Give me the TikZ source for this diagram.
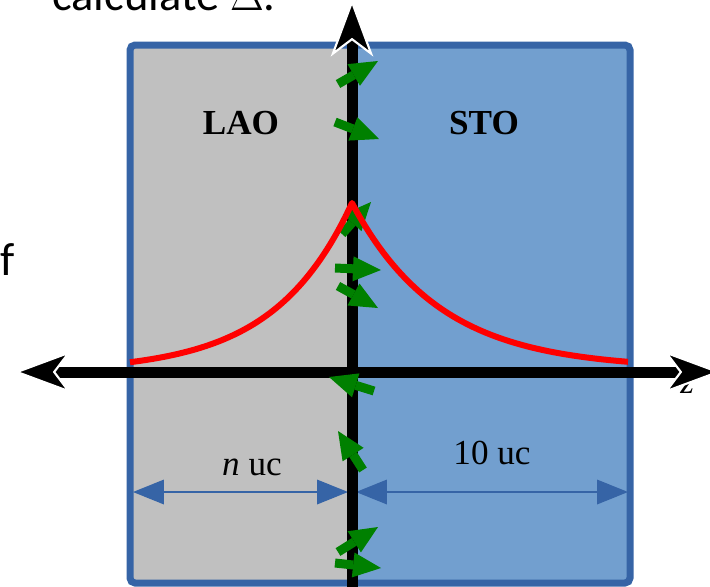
\documentclass[tikz,border=0pt]{standalone}
\usepackage{fontspec}
\setmainfont{Liberation Serif}
\newfontfamily\slidefont{Carlito}
\usetikzlibrary{arrows.meta, positioning, calc}
\definecolor{laogray}{RGB}{192,192,192}
\definecolor{stoblue}{RGB}{114,159,207}
\definecolor{frameblue}{RGB}{54,100,166}
\definecolor{spingreen}{RGB}{0,128,0}

\begin{document}
\begin{tikzpicture}[x=0.02cm, y=-0.02cm,
    axis/.style={line width=0.22cm, line cap=butt},
    axistip/.style={-{Stealth[length=1.15cm, width=0.85cm, inset=0.32cm, fill=black, color=white, line width=1.2pt]}},
    spin/.style={spingreen, line width=0.18cm, line cap=butt, -{Triangle[length=0.56cm, width=0.5cm, line width=0pt]}},
    dim/.style={frameblue, line width=0.7pt, {Triangle[length=0.62cm, width=0.5cm, line width=0pt]}-{Triangle[length=0.62cm, width=0.5cm, line width=0pt]}},
    lbl/.style={font=\fontsize{20}{24}\selectfont},
    layer/.style={font=\fontsize{20}{24}\selectfont\bfseries}]
    \useasboundingbox (0,0) rectangle (710,586);

    % Slide text around the picture
    \node[anchor=base west, font=\slidefont\fontsize{26.5}{30}\selectfont, inner sep=0pt] (title) at (52,10) {calculate $\Delta$.};
    \node[anchor=base west, font=\slidefont\fontsize{26.5}{30}\selectfont, inner sep=0pt] (flabel) at (0,275) {f};

    % Layers
    \coordinate (tl) at (130,45);
    \coordinate (br) at (630,583);
    \coordinate (mid) at (350,45);
    \fill[laogray] (tl) rectangle (350,583);
    \fill[stoblue] (mid) rectangle (br);
    \draw[frameblue, line width=0.14cm, rounded corners=0.1cm] (tl) rectangle (br);

    \node[layer, anchor=base] (lao) at (241,134) {LAO};
    \node[layer, anchor=base] (sto) at (484,134) {STO};

    % Thickness markers
    \coordinate (nl) at (133,492);
    \coordinate (nr) at (348,492);
    \coordinate (sl) at (356,492);
    \coordinate (sr) at (628,492);
    \draw[dim] (nl) -- (nr);
    \draw[dim] (sl) -- (sr);
    \node[lbl, anchor=base] (nuc) at (252,475) {\textit{n} uc};
    \node[lbl, anchor=base] (tenuc) at (492,464) {10 uc};

    % Axes
    \node[lbl, anchor=base west, inner sep=0pt, font=\fontsize{20}{24}\selectfont\itshape] (zlabel) at (680,393) {z};
    \coordinate (O) at (352,372);
    \coordinate (ztop) at (352,-1);
    \coordinate (zbot) at (352,600);
    \coordinate (xl) at (14,372);
    \coordinate (xr) at (721,372);
    \draw[axis, axistip] (zbot) -- (ztop);
    \draw[axis, axistip] (O) -- (xl);
    \draw[axis, axistip] (O) -- (xr);

    % Spins
    \draw[spin] (338,84) -- (378,61);
    \draw[spin] (335,122) -- (379,139);
    \draw[spin] (342,234) -- (371,202);
    \draw[spin] (335,268) -- (381,270);
    \draw[spin] (338,286) -- (378,308);
    \draw[spin] (374,391) -- (329,377);
    \draw[spin] (363,470) -- (338,431);
    \draw[spin] (338,552) -- (378,527);
    \draw[spin] (335,563) -- (381,568);

    % Profile
    \draw[red, line width=0.12cm, line join=round]
        plot[domain=130:352, samples=80] (\x, {372-169*exp(-(352-\x)/78)})
        -- plot[domain=352:628, samples=80] (\x, {369-166*exp(-(\x-352)/88)});
\end{tikzpicture}
\end{document}
